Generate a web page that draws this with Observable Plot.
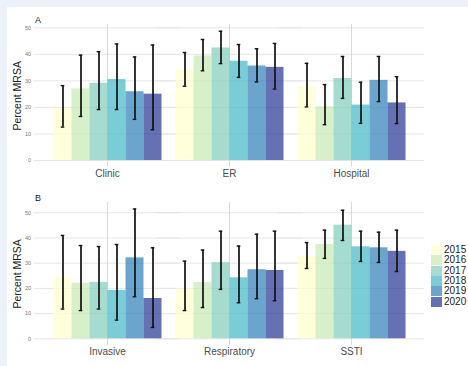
<!DOCTYPE html>
<html>
<head>
<meta charset="utf-8">
<script src="https://cdn.jsdelivr.net/npm/d3@7"></script>
<script src="https://cdn.jsdelivr.net/npm/@observablehq/plot@0.6"></script>
<style>
  html, body { margin: 0; padding: 0; }
  body { width: 468px; height: 366px; background: #edf1f9; overflow: hidden; position: relative; font-family: "Liberation Sans", Arial, sans-serif; }
  #panel { position: absolute; left: 7px; top: 7px; width: 480px; height: 380px; background: #fff; }
  .chart { position: absolute; left: 0; }
  #legend { position: absolute; left: 431px; top: 245px; }
  .row { display: flex; align-items: center; height: 10.3px; }
  .sw { width: 11px; height: 10px; margin-right: 2px; }
  .lab { font-size: 10px; color: #222; line-height: 10px; }
</style>
</head>
<body>
<div id="panel"></div>
<div id="a" class="chart" style="top:0px"></div>
<div id="b" class="chart" style="top:183px"></div>
<div id="legend"></div>
<script>
const years = ["2015", "2016", "2017", "2018", "2019", "2020"];
const colors = ["#ffffcc", "#c7e9b4", "#7fcdbb", "#41b6c4", "#2c7fb8", "#253494"];
const yTicks = [0, 10, 20, 30, 40, 50];

const categoriesA = ["Clinic", "ER", "Hospital"];
const pctA = {
  Clinic:   [19.6, 27.0, 29.1, 30.5, 25.9, 25.0],
  ER:       [34.1, 39.4, 42.4, 37.4, 35.6, 35.1],
  Hospital: [27.8, 20.2, 30.9, 20.9, 30.2, 21.7]
};
const loA = {
  Clinic:   [12.6, 16.6, 19.2, 19.2, 15.5, 11.6],
  ER:       [28.0, 33.8, 36.5, 31.3, 29.6, 26.9],
  Hospital: [20.2, 13.5, 23.4, 14.0, 22.2, 13.9]
};
const hiA = {
  Clinic:   [28.2, 39.7, 41.0, 43.9, 39.0, 43.5],
  ER:       [40.7, 45.6, 48.7, 43.7, 42.1, 44.1],
  Hospital: [36.6, 28.6, 39.2, 29.5, 39.2, 31.6]
};

const categoriesB = ["Invasive", "Respiratory", "SSTI"];
const pctB = {
  Invasive:    [24.2, 22.0, 22.4, 19.2, 32.1, 16.0],
  Respiratory: [19.7, 22.4, 30.2, 24.2, 27.4, 27.1],
  SSTI:        [32.7, 37.4, 45.1, 36.5, 36.1, 34.7]
};
const loB = {
  Invasive:    [11.8, 11.2, 11.8, 7.4, 16.7, 4.5],
  Respiratory: [11.2, 12.4, 19.6, 14.3, 15.9, 15.1],
  SSTI:        [27.9, 31.9, 39.0, 30.7, 30.3, 26.7]
};
const hiB = {
  Invasive:    [41.0, 37.0, 36.6, 37.4, 51.5, 36.1],
  Respiratory: [30.8, 35.2, 42.7, 36.8, 41.5, 42.7],
  SSTI:        [38.2, 43.1, 51.0, 42.7, 42.3, 43.1]
};

function rowsOf(cats, pct, lo, hi) {
  const out = [];
  for (const c of cats) years.forEach((y, i) => out.push({cat: c, year: y, pct: pct[c][i], lo: lo[c][i], hi: hi[c][i]}));
  return out;
}

function panel(title, cats, rows, yDomain, mTop, mBottom) {
  return Plot.plot({
    width: 468, height: 183,
    marginLeft: 32.5, marginRight: 43.5, marginTop: mTop, marginBottom: mBottom,
    style: {fontFamily: "Liberation Sans, Arial, sans-serif", background: "transparent", overflow: "visible"},
    fx: {domain: cats, paddingInner: 0.1, paddingOuter: 0.15, label: null, axis: null},
    x: {domain: years, padding: 0, axis: null},
    y: {domain: yDomain, axis: null},
    color: {domain: years, range: colors},
    marks: [
      Plot.ruleY(yTicks, {stroke: "#e6e6e6", strokeWidth: 1, insetLeft: -18.4, insetRight: -18.4}),
      Plot.gridFx({stroke: "#d9d9d9", strokeOpacity: 1}),
      Plot.barY(rows, {fx: "cat", x: "year", y: "pct", fill: "year", fillOpacity: 0.7}),
      Plot.ruleX(rows, {fx: "cat", x: "year", y1: "lo", y2: "hi", stroke: "#111", strokeWidth: 1.7}),
      Plot.tickY(rows, {fx: "cat", x: "year", y: "hi", stroke: "#111", strokeWidth: 1.4, insetLeft: 7.2, insetRight: 7.2}),
      Plot.tickY(rows, {fx: "cat", x: "year", y: "lo", stroke: "#111", strokeWidth: 1.4, insetLeft: 7.2, insetRight: 7.2}),
      Plot.axisY({ticks: yTicks, tickSize: 0, tickPadding: 21.4, fontSize: 5.5, label: null, color: "#777"}),
      Plot.axisFx({anchor: "bottom", tickSize: 0, tickPadding: 3, fontSize: 10, label: null, color: "#4d4d4d"}),
      Plot.text(["Percent MRSA"], {facet: "super", frameAnchor: "left", rotate: -90, dx: -34.4, fontSize: 10.5, fill: "#222", textAnchor: "middle"}),
      Plot.text([title], {facet: "super", frameAnchor: "top-left", dx: -17.4, dy: -7.5, fontSize: 9, fill: "#222", textAnchor: "start"})
    ]
  });
}

const rowsA = rowsOf(categoriesA, pctA, loA, hiA);
const rowsB = rowsOf(categoriesB, pctB, loB, hiB);
const chartA = panel("A", categoriesA, rowsA, [-2.44, 51.2], 24.1, 16.5);
const chartB = panel("B", categoriesB, rowsB, [-2.575, 54.075], 19, 21.2);
document.getElementById("a").appendChild(chartA);
document.getElementById("b").appendChild(chartB);

const legend = document.getElementById("legend");
years.forEach((y, i) => {
  const r = document.createElement("div");
  r.className = "row";
  const sw = document.createElement("div");
  sw.className = "sw";
  sw.style.background = chartA.scale("color").apply(y);
  sw.style.opacity = 0.7;
  const lab = document.createElement("div");
  lab.className = "lab";
  lab.textContent = y;
  r.appendChild(sw); r.appendChild(lab);
  legend.appendChild(r);
});
</script>
</body>
</html>
